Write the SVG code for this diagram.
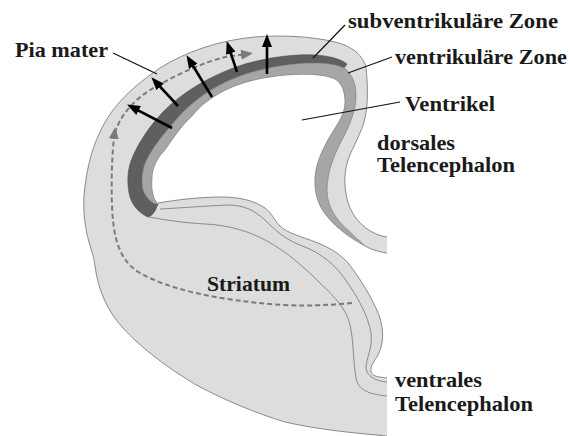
<svg xmlns="http://www.w3.org/2000/svg" width="570" height="436" viewBox="0 0 570 436">
  <defs>
    <style>
      .lbl { font-family: "Liberation Serif", "Times New Roman", serif; font-weight: bold; font-size: 21px; fill: #1a1a1a; }
      .edge { fill: none; stroke: #8a8a8a; stroke-width: 1; }
      .leader { fill: none; stroke: #111; stroke-width: 1.2; }
      .radial { fill: none; stroke: #000; stroke-width: 2.6; marker-end: url(#headBlack); }
      .tangential { fill: none; stroke: #7a7a7a; stroke-width: 2; stroke-dasharray: 5 3; marker-end: url(#headGray); }
    </style>
    <marker id="headBlack" markerUnits="userSpaceOnUse" markerWidth="13" markerHeight="10" refX="7" refY="5" orient="auto">
      <path d="M0,0 L13,5 L0,10 Z" fill="#000"/>
    </marker>
    <marker id="headGray" markerUnits="userSpaceOnUse" markerWidth="12" markerHeight="10" refX="6" refY="5" orient="auto">
      <path d="M0,0 L12,5 L0,10 Z" fill="#7a7a7a"/>
    </marker>
  </defs>

  <!-- tissue: hemisphere section, cut at the midline (x=387) -->
  <g id="section">
    <path fill="#dddddd" d="M387,237 C372,235 357,224 350,208 C344,193 343,175 348,160 C353,146 362,132 365,118 C368,105 368,85 366,68 C364,56 352,46 335,42 C310,36 280,35 255,37 C220,40 185,52 160,68 C135,85 112,105 100,132 C90,152 86,175 84,195 C83,212 85,228 89,242 C92,252 94,258 95,266 C98,290 108,312 123,328 C140,347 170,370 200,387 C225,400 255,413 285,422 C320,430 355,433 387,436 L387,378 C380,377 373,377 371,372 C370,366 374,362 378,355 C384,343 384,330 379,315 C372,298 360,278 348,263 C340,254 332,249 318,243 C300,236 287,233 280,226 C274,220 272,213 265,208 C255,201 240,197 222,197 C200,197 175,200 158,203 C153,199 151,190 152,178 C152,168 157,158 165,150 C172,140 180,127 192,116 C208,96 235,82 270,77 C295,73 322,73 335,79 C342,83 345,92 345,102 C345,113 339,122 332,133 C324,146 316,162 315,177 C314,192 318,205 326,215 C335,227 350,238 365,246 C372,250 380,252 387,253 Z"/>
    <!-- pial surface -->
    <path class="edge" d="M387,237 C372,235 357,224 350,208 C344,193 343,175 348,160 C353,146 362,132 365,118 C368,105 368,85 366,68 C364,56 352,46 335,42 C310,36 280,35 255,37 C220,40 185,52 160,68 C135,85 112,105 100,132 C90,152 86,175 84,195 C83,212 85,228 89,242 C92,252 94,258 95,266 C98,290 108,312 123,328 C140,347 170,370 200,387 C225,400 255,413 285,422 C320,430 355,433 387,436"/>
    <!-- ventral (ganglionic eminence) contours -->
    <path class="edge" d="M158,203 C175,200 200,197 222,197 C240,197 255,201 265,208 C272,213 274,220 280,226 C287,233 300,236 318,243 C332,249 340,254 348,263 C360,278 372,298 379,315 C384,330 384,343 378,355 C374,362 370,366 371,372 C373,377 380,377 387,378"/>
    <path class="edge" d="M160,209 C180,208 205,206 228,205 C245,205 255,211 265,220 C275,230 285,240 305,247 C322,254 335,265 345,279 C357,296 368,315 371,333 C373,348 366,358 366,368 C367,376 375,381 387,382"/>
    <path class="edge" d="M149,217 C165,220 185,223 205,224 C230,225 250,232 265,240 C285,250 305,268 320,283 C335,297 347,310 350,325 C354,342 353,362 356,378 C358,388 365,394 387,396"/>
    <!-- ventricle wall edge, medial end -->
    <path class="edge" d="M365,246 C372,250 380,252 387,253"/>
  </g>

  <!-- subventricular zone -->
  <g id="svz">
    <path fill="#5f5f5f" stroke="#4a4a4a" stroke-width="0.6" d="M148,217 C141,214 133,207 130,197 C127,186 127,172 131,161 C137,145 148,128 162,113 C180,94 210,75 245,64 C270,57 295,54 315,55 C330,56 341,59 347,64 L344,68 C338,65 328,63 313,63 C285,63 255,70 235,78 C205,90 185,108 170,127 C160,138 152,149 146,161 C142,170 141,181 143,190 C146,198 153,205 158,204 L155,211 Q152,216 148,217 Z"/>
  </g>

  <!-- ventricular zone -->
  <g id="vz">
    <path fill="#a6a6a6" stroke="#7e7e7e" stroke-width="0.7" d="M158,204 C153,205 146,198 143,190 C141,181 142,170 146,161 C152,149 160,138 170,127 C185,108 205,90 235,78 C255,70 285,63 313,63 C328,63 338,65 344,68 C352,73 356,84 356,96 C356,110 350,124 344,136 C336,151 327,170 327,190 C327,208 338,222 350,232 C355,237 361,242 365,246 C350,238 335,227 326,215 C318,205 314,192 315,177 C316,162 324,146 332,133 C339,122 345,113 345,102 C345,92 342,83 335,79 C322,73 295,73 270,77 C235,82 208,96 192,116 C180,127 172,140 165,150 C157,158 152,168 152,178 C151,190 153,199 158,204 Z"/>
  </g>

  <!-- migration routes -->
  <g id="connectors">
    <!-- tangential route from the striatum into the cortex -->
    <path class="tangential" d="M352,303 C320,306 290,307 250,302 C215,298 170,290 140,273 C118,260 113,235 112,205 C111,180 112,155 114.5,133"/>
    <path class="tangential" d="M115,133 C120,115 135,98 157,86 C180,73 205,62 225,57 L247,54"/>
    <!-- radial routes -->
    <line class="radial" x1="172" y1="128" x2="132.4" y2="107.3"/>
    <line class="radial" x1="178" y1="106" x2="155.4" y2="81.7"/>
    <line class="radial" x1="212" y1="97" x2="189.6" y2="60.3"/>
    <line class="radial" x1="237" y1="72" x2="228.6" y2="46.7"/>
    <line class="radial" x1="267" y1="74" x2="267" y2="40"/>
    <!-- label leaders -->
    <line class="leader" x1="113" y1="53" x2="157" y2="74"/>
    <line class="leader" x1="345" y1="25" x2="313" y2="58"/>
    <line class="leader" x1="392" y1="57" x2="348" y2="73"/>
    <line class="leader" x1="400" y1="102" x2="302" y2="120"/>
  </g>

  <g id="label-pia"><text class="lbl" x="15" y="57" textLength="93" lengthAdjust="spacingAndGlyphs">Pia mater</text></g>
  <g id="label-svz"><text class="lbl" x="348" y="28" textLength="210" lengthAdjust="spacingAndGlyphs">subventrikuläre Zone</text></g>
  <g id="label-vz"><text class="lbl" x="395" y="64" textLength="172" lengthAdjust="spacingAndGlyphs">ventrikuläre Zone</text></g>
  <g id="label-ventrikel"><text class="lbl" x="405" y="111" textLength="90" lengthAdjust="spacingAndGlyphs">Ventrikel</text></g>
  <g id="label-dorsal"><text class="lbl" x="377" y="150" textLength="78" lengthAdjust="spacingAndGlyphs">dorsales</text><text class="lbl" x="377" y="172" textLength="138" lengthAdjust="spacingAndGlyphs">Telencephalon</text></g>
  <g id="label-striatum"><text class="lbl" x="207" y="291" textLength="83" lengthAdjust="spacingAndGlyphs">Striatum</text></g>
  <g id="label-ventral"><text class="lbl" x="395" y="387" textLength="87" lengthAdjust="spacingAndGlyphs">ventrales</text><text class="lbl" x="395" y="411" textLength="138" lengthAdjust="spacingAndGlyphs">Telencephalon</text></g>
</svg>
